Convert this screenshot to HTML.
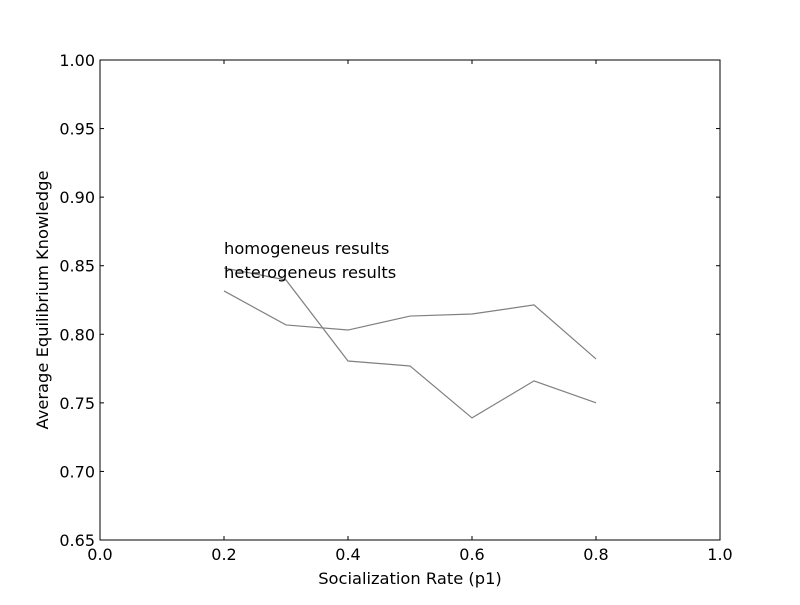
<!DOCTYPE html>
<html><head><meta charset="utf-8"><style>
body{margin:0;background:#fff;}
svg text{font-family:"DejaVu Sans","Liberation Sans",sans-serif;fill:#000;}
</style></head><body>
<svg id="chart" width="800" height="600" xmlns="http://www.w3.org/2000/svg">
<rect x="0" y="0" width="800" height="600" fill="#fff"/>
<g id="marks"></g>
<g id="axes"></g>
<text x="224" y="254" font-size="16.3">homogeneus results</text>
<text x="224" y="278" font-size="16.3">heterogeneus results</text>
<text x="410" y="584" font-size="16.3" text-anchor="middle">Socialization Rate (p1)</text>
<text x="48" y="300" font-size="16.3" text-anchor="middle" transform="rotate(-90 48 300)">Average Equilibrium Knowledge</text>
</svg>
<script>
const xValues=[0.2,0.3,0.4,0.5,0.6,0.7,0.8];
const seriesA=[0.8316,0.8068,0.8031,0.8133,0.8148,0.8214,0.782];
const seriesB=[0.8484,0.8396,0.7805,0.7769,0.739,0.766,0.750];
const xTicks=[0.0,0.2,0.4,0.6,0.8,1.0];
const yTicks=[0.65,0.70,0.75,0.80,0.85,0.90,0.95,1.00];
const L=100,R=720,T=60,B=540;
const sx=v=>L+(v-0)/(1-0)*(R-L);
const sy=v=>B-(v-0.65)/(0.35)*(B-T);
const NS="http://www.w3.org/2000/svg";
const marks=document.getElementById('marks'),axes=document.getElementById('axes');
function mk(tag,attrs,parent){const e=document.createElementNS(NS,tag);for(const k in attrs)e.setAttribute(k,attrs[k]);parent.appendChild(e);return e;}
[seriesA,seriesB].forEach((s,i)=>{
  const p=mk('polyline',{points:s.map((v,j)=>sx(xValues[j])+','+sy(v)).join(' '),fill:'none',stroke:'#808080','stroke-width':1.2},marks);
  
  
});
const frame=mk('rect',{x:L,y:T,width:R-L,height:B-T,fill:'none',stroke:'#000','stroke-width':1},axes);


xTicks.forEach(t=>{
  const x=sx(t);
  mk('line',{x1:x,x2:x,y1:B,y2:B-4,stroke:'#000'},axes);
  mk('line',{x1:x,x2:x,y1:T,y2:T+4,stroke:'#000'},axes);
  const tx=mk('text',{x:x,y:B+20,'font-size':16,'text-anchor':'middle'},axes);
  tx.textContent=t.toFixed(1);
  
  
});
yTicks.forEach(t=>{
  const y=sy(t);
  mk('line',{x1:L,x2:L+4,y1:y,y2:y,stroke:'#000'},axes);
  mk('line',{x1:R,x2:R-4,y1:y,y2:y,stroke:'#000'},axes);
  const tx=mk('text',{x:L-5,y:y+6,'font-size':16,'text-anchor':'end'},axes);
  tx.textContent=t.toFixed(2);
  
  
});
</script>
</body></html>
